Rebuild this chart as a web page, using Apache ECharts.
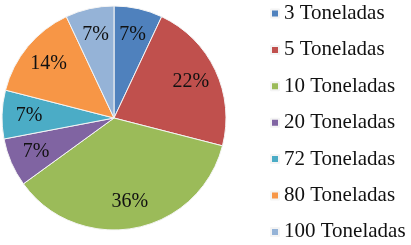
<!DOCTYPE html>
<html>
<head>
<meta charset="utf-8">
<script src="https://cdn.jsdelivr.net/npm/echarts@6/dist/echarts.min.js"></script>
<style>html,body{margin:0;padding:0;background:#fff}#c{width:411px;height:245px}</style>
</head>
<body>
<div id="c"></div>
<script>
const categories = ['3 Toneladas','5 Toneladas','10 Toneladas','20 Toneladas','72 Toneladas','80 Toneladas','100 Toneladas'];
const values = [7, 22, 36, 7, 7, 14, 7];
const colors = ['#4F81BD','#C0504D','#9BBB59','#8064A2','#4BACC6','#F79646','#95B3D7'];

const data = categories.map((n, i) => ({ name: n, value: values[i] }));
const chart = echarts.init(document.getElementById('c'), null, { renderer: 'canvas' });
chart.setOption({
  animation: false,
  color: colors,
  legend: {
    orient: 'vertical',
    left: 270,
    top: 3,
    padding: 0,
    height: 400,
    itemWidth: 8,
    itemHeight: 8,
    itemGap: 15.4,
    icon: 'rect',
    data: categories,
    textStyle: { fontFamily: 'Liberation Serif', fontSize: 21, color: '#111', lineHeight: 20 }
  },
  series: [
    {
      type: 'pie',
      center: [114, 118],
      radius: [0, 112],
      startAngle: 90,
      clockwise: true,
      data: data,
      label: { show: false },
      labelLine: { show: false },
      itemStyle: { borderColor: '#f4f4f4', borderWidth: 1 },
      emphasis: { disabled: true }
    },
    {
      type: 'pie',
      center: [114, 118],
      radius: [52, 112],
      startAngle: 90,
      clockwise: true,
      silent: true,
      data: data,
      itemStyle: { color: 'transparent' },
      label: {
        show: true,
        position: 'inside',
        formatter: p => p.value + '%',
        fontFamily: 'Liberation Serif',
        fontSize: 20,
        color: '#111'
      },
      labelLine: { show: false },
      emphasis: { disabled: true }
    }
  ]
});
</script>
</body>
</html>
